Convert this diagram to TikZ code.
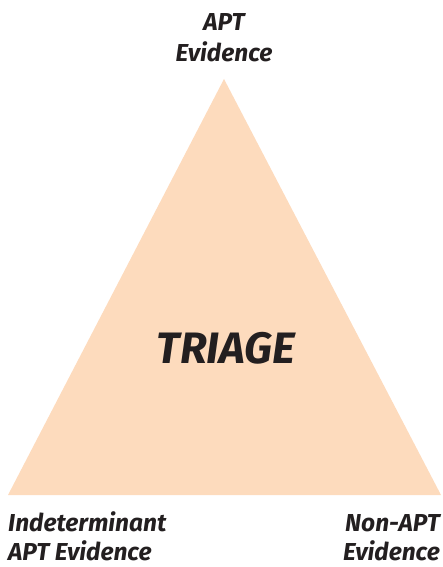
\documentclass[tikz,border=0pt]{standalone}
\usepackage{fontspec}
\setmainfont{Fira Sans}
\definecolor{peach}{HTML}{FDDBBD}
\definecolor{ink}{HTML}{231F20}
\begin{document}
\begin{tikzpicture}[x=1pt,y=-1pt,
  lbl/.style={text=ink,font=\fontsize{24.5}{24.5}\selectfont\bfseries\itshape,inner sep=0pt},
  big/.style={text=ink,font=\fontsize{44}{44}\selectfont\bfseries\itshape,inner sep=0pt}]
\useasboundingbox (0,0) rectangle (442,567);
\coordinate (apex) at (224,79);
\coordinate (bl) at (8,495);
\coordinate (br) at (441,495);
\fill[peach] (apex) -- (bl) -- (br) -- cycle;
\node[big,anchor=base] (triage) at (226,363) {TRIAGE};
\node[lbl,anchor=base] (t1) at (224,31) {APT};
\node[lbl,anchor=base] (t2) at (224,62) {Evidence};
\node[lbl,anchor=base west] (l1) at (8,531) {Indeterminant};
\node[lbl,anchor=base west] (l2) at (8,560) {APT Evidence};
\node[lbl,anchor=base east] (r1) at (440,531) {Non-APT};
\node[lbl,anchor=base east] (r2) at (440,560) {Evidence};
\end{tikzpicture}
\end{document}
